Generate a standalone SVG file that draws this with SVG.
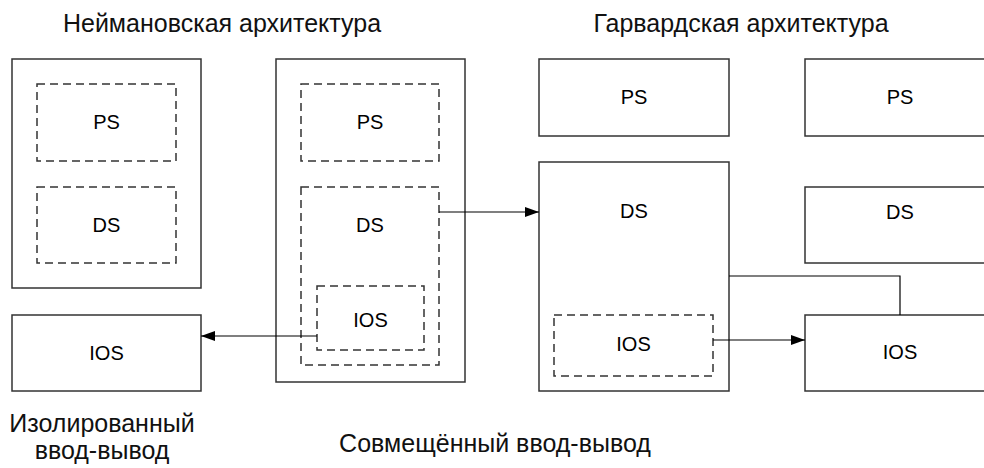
<svg xmlns="http://www.w3.org/2000/svg" width="984" height="468" viewBox="0 0 984 468">
<defs>
<style>
.box{fill:#fff;stroke:#333;stroke-width:1.5}
.dash{fill:none;stroke:#333;stroke-width:1.5;stroke-dasharray:8 5}
.lbl{font-family:"Liberation Sans",Arial,sans-serif;font-size:20px;fill:#000;text-anchor:middle;dominant-baseline:central}
.ttl{font-family:"Liberation Sans",Arial,sans-serif;font-size:25px;fill:#111;text-anchor:middle}
.con{fill:none;stroke:#000;stroke-width:1.2}
</style>
<marker id="arr" viewBox="0 0 14 10" refX="14" refY="5" markerWidth="14" markerHeight="10" markerUnits="userSpaceOnUse" orient="auto">
<path d="M0,0 L14,5 L0,10 Z" fill="#000"/>
</marker>
</defs>
<rect width="984" height="468" fill="#fff"/>
<g id="titles">
<text class="ttl" x="222" y="32">Неймановская архитектура</text>
<text class="ttl" x="741" y="32">Гарвардская архитектура</text>
<text class="ttl" x="102" y="432">Изолированный</text>
<text class="ttl" x="102" y="459">ввод-вывод</text>
<text class="ttl" x="495" y="452">Совмещённый ввод-вывод</text>
</g>
<g id="neu1">
<rect class="box" x="12" y="59" width="189" height="229"/>
</g>
<g id="neu1-ps">
<rect class="dash" x="37" y="84" width="139" height="77"/>
<text class="lbl" x="106.5" y="122">PS</text>
</g>
<g id="neu1-ds">
<rect class="dash" x="37" y="187" width="139" height="76"/>
<text class="lbl" x="106.5" y="225">DS</text>
</g>
<g id="neu1-ios">
<rect class="box" x="12" y="315" width="189" height="76"/>
<text class="lbl" x="106.5" y="353">IOS</text>
</g>
<g id="neu2">
<rect class="box" x="276" y="59" width="189" height="323"/>
</g>
<g id="neu2-ps">
<rect class="dash" x="301" y="84" width="138" height="77"/>
<text class="lbl" x="370" y="122">PS</text>
</g>
<g id="neu2-ds">
<rect class="dash" x="301" y="187" width="138" height="178"/>
<text class="lbl" x="370" y="225">DS</text>
</g>
<g id="neu2-ios">
<rect class="dash" x="317" y="286" width="107" height="64"/>
<text class="lbl" x="370.5" y="320">IOS</text>
</g>
<g id="har1-ps">
<rect class="box" x="539" y="59" width="190" height="77"/>
<text class="lbl" x="634" y="97">PS</text>
</g>
<g id="har1-ds">
<rect class="box" x="539" y="162" width="190" height="229"/>
<text class="lbl" x="634" y="211">DS</text>
</g>
<g id="har1-ios">
<rect class="dash" x="554" y="315" width="159" height="61"/>
<text class="lbl" x="633.5" y="344">IOS</text>
</g>
<g id="har2-ps">
<rect class="box" x="805" y="59" width="190" height="77"/>
<text class="lbl" x="900" y="97">PS</text>
</g>
<g id="har2-ds">
<rect class="box" x="805" y="187" width="190" height="76"/>
<text class="lbl" x="900" y="212">DS</text>
</g>
<g id="har2-ios">
<rect class="box" x="805" y="315" width="190" height="76"/>
<text class="lbl" x="900" y="352">IOS</text>
</g>
<g id="connectors">
<path class="con" d="M439,212 L539,212" marker-end="url(#arr)"/>
<path class="con" d="M317,336 L201,336" marker-end="url(#arr)"/>
<path class="con" d="M713,340 L805,340" marker-end="url(#arr)"/>
<path class="con" d="M729,276 L900,276 L900,315"/>
</g>
</svg>
